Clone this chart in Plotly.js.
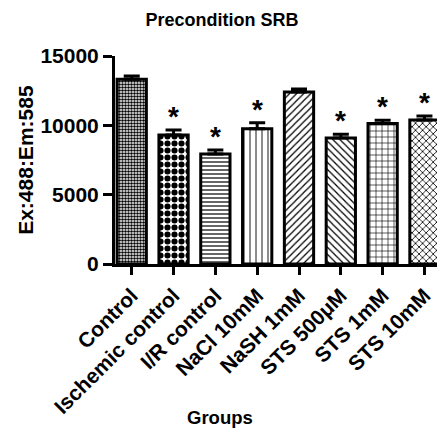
<!DOCTYPE html>
<html><head><meta charset="utf-8">
<script src="https://cdn.plot.ly/plotly-3.0.1.min.js"></script>
<style>html,body{margin:0;padding:0;background:#fff}</style>
</head><body>
<div id="chart" style="width:444px;height:432px"></div>
<script>
const groups = ["Control","Ischemic control","I/R control","NaCl 10mM","NaSH 1mM","STS 500μM","STS 1mM","STS 10mM"];
const means = [13320, 9300, 7930, 9760, 12400, 9090, 10140, 10390];
const sem = [240, 360, 290, 430, 220, 260, 220, 290];
const significant = [false, true, true, true, false, true, true, true];
const patterns = [".", ".", "-", "|", "/", "\\", "+", "x"];
const patternSizes = [3, 7, 4, 6, 5, 5, 6, 5];
const patternSolidity = [0.55, 0.6, 0.3, 0.15, 0.25, 0.25, 0.2, 0.3];

const font = {family: "Arial, Liberation Sans, sans-serif", color: "#000"};
const trace = {
  type: "bar", x: groups, y: means,
  width: 0.7,
  marker: {color: "#fff", line: {color: "#000", width: 3},
    pattern: {shape: patterns, size: patternSizes, solidity: patternSolidity, fgcolor: "#000", bgcolor: "#fff"}},
  error_y: {type: "data", array: sem, arrayminus: sem.map(()=>0), symmetric: false, color: "#000", thickness: 3, width: 8},
  hoverinfo: "none"
};
const annotations = groups.map((g,i)=> significant[i] ? {
  x: g, y: means[i]+sem[i], text: "<b>*</b>", showarrow: false, yanchor: "bottom", yshift: -4,
  font: Object.assign({}, font, {size: 28})
} : null).filter(a=>a);
annotations.push({xref: "paper", yref: "paper", x: 0.326, y: -0.74, text: "<b>Groups</b>", showarrow: false,
  xanchor: "center", yanchor: "middle", font: Object.assign({}, font, {size: 18.5})});
annotations.push({xref: "paper", yref: "paper", x: -0.28, y: 0.5, text: "<b>Ex:488:Em:585</b>", showarrow: false,
  textangle: -90, xanchor: "center", yanchor: "middle", font: Object.assign({}, font, {size: 21})});

const layout = {
  width: 444, height: 432,
  margin: {l: 115, r: 7, t: 56, b: 168},
  paper_bgcolor: "#fff", plot_bgcolor: "#fff",
  showlegend: false,
  title: {text: "<b>Precondition SRB</b>", x: 0.5, xanchor: "center", y: 0.954, yanchor: "middle",
    font: Object.assign({}, font, {size: 18})},
  xaxis: {range: [-0.4, 7.3], showline: true, linecolor: "#000", linewidth: 3, automargin: false,
    ticks: "outside", ticklen: 8, tickwidth: 3, tickcolor: "#000", tickangle: -45,
    tickfont: Object.assign({}, font, {size: 21, weight: "bold"}),
    showgrid: false, zeroline: false, fixedrange: true},
  yaxis: {range: [0, 15000], tickvals: [0, 5000, 10000, 15000], ticktext: ["0","5000","10000","15000"],
    showline: true, linecolor: "#000", linewidth: 3, automargin: false,
    ticks: "outside", ticklen: 9, tickwidth: 3, tickcolor: "#000",
    tickfont: Object.assign({}, font, {size: 21, weight: "bold"}),
    showgrid: false, zeroline: false, fixedrange: true},
  annotations: annotations
};
Plotly.newPlot("chart", [trace], layout, {displayModeBar: false, staticPlot: true});
</script>
</body></html>
